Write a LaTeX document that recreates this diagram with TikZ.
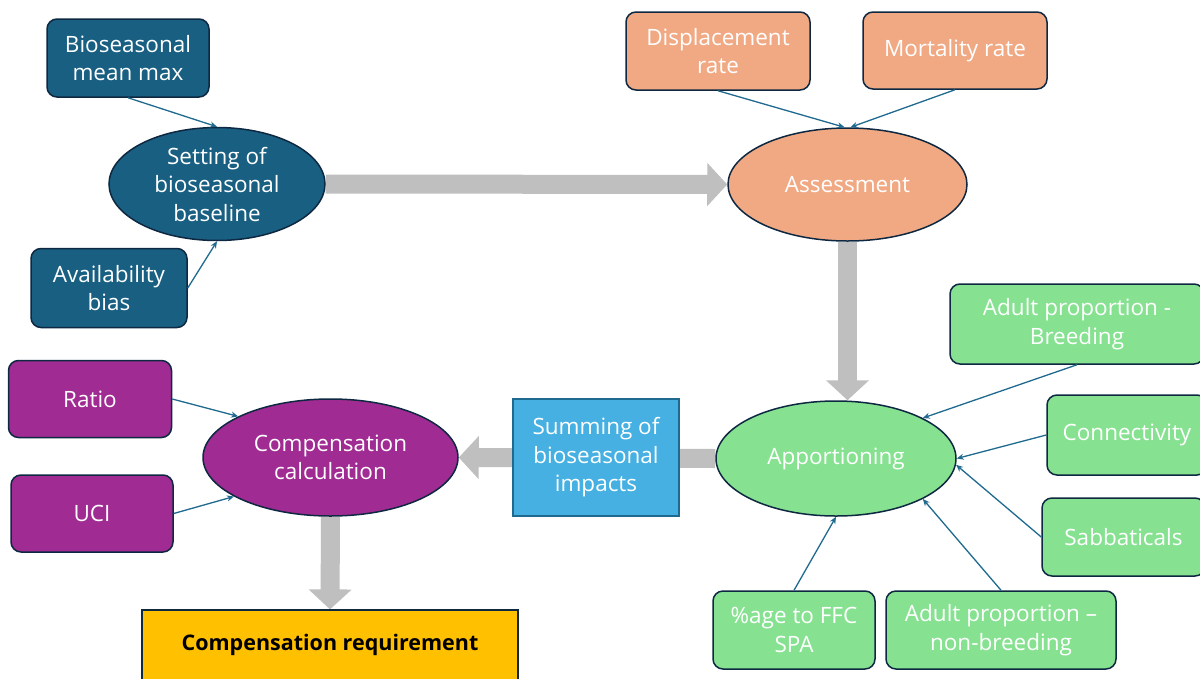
\documentclass[tikz,border=0pt]{standalone}
\usepackage{fontspec}
\setmainfont{Open Sans}
\usetikzlibrary{shapes.geometric,arrows.meta,backgrounds}
\definecolor{teal1}{HTML}{185F82}
\definecolor{orng}{HTML}{F1A983}
\definecolor{grn}{HTML}{86E291}
\definecolor{purp}{HTML}{A02B93}
\definecolor{skyb}{HTML}{45B0E1}
\definecolor{yell}{HTML}{FFC000}
\definecolor{dkline}{HTML}{0E2841}
\definecolor{linkc}{HTML}{1F6A8E}
\definecolor{arrg}{HTML}{BFBFBF}
\begin{document}
\begin{tikzpicture}[x=1pt,y=-1pt,
  base/.style={draw=dkline, line width=1.5pt, text=white, align=center,
    font=\fontsize{22.5}{28.5}\selectfont, inner sep=0pt},
  rbox/.style={base, rectangle, rounded corners=10pt},
  ell/.style={base, ellipse},
  link/.style={draw=linkc, line width=1.3pt, -{Stealth[length=7pt,width=6pt]}},
  big/.style={draw=arrg, line width=19pt, -{Triangle[length=20pt,width=42pt]}}]
\useasboundingbox (0,0) rectangle (1200,678);

% top-left group
\node[rbox, fill=teal1, minimum width=162pt, minimum height=78pt] (bmm) at (128,58) {Bioseasonal\\mean max};
\node[rbox, fill=teal1, minimum width=156pt, minimum height=79pt] (ab) at (109,288) {Availability\\bias};
\node[ell, fill=teal1, minimum width=216pt, minimum height=113pt] (set) at (217,184) {Setting of\\bioseasonal\\baseline};

% top-right group
\node[rbox, fill=orng, minimum width=184pt, minimum height=78pt] (disp) at (718,51) {Displacement\\rate};
\node[rbox, fill=orng, minimum width=184pt, minimum height=77pt] (mort) at (955,50.5) {Mortality rate};
\node[ell, fill=orng, minimum width=239pt, minimum height=113pt] (ass) at (847.5,184.5) {Assessment};

% apportioning group
\node[ell, fill=grn, minimum width=240pt, minimum height=115pt] (app) at (836,458.5) {Apportioning};
\node[rbox, fill=grn, minimum width=254pt, minimum height=80pt] (apb) at (1077,324) {Adult proportion -\\Breeding};
\node[rbox, fill=grn, minimum width=160pt, minimum height=80pt] (con) at (1127,435) {Connectivity};
\node[rbox, fill=grn, minimum width=163pt, minimum height=78pt] (sab) at (1123.5,537) {Sabbaticals};
\node[rbox, fill=grn, minimum width=162pt, minimum height=78pt] (ffc) at (794,630) {\%age to FFC\\SPA};
\node[rbox, fill=grn, minimum width=230pt, minimum height=78pt] (anb) at (1001,630) {Adult proportion –\\non-breeding};

% summing
\node[base, rectangle, draw=linkc, line width=1.2pt, fill=skyb, minimum width=166pt, minimum height=117pt] (sum) at (596,457.5) {Summing of\\bioseasonal\\impacts};

% compensation group
\node[ell, fill=purp, minimum width=255pt, minimum height=117pt] (cc) at (330.5,457.5) {Compensation\\calculation};
\node[rbox, fill=purp, minimum width=163pt, minimum height=77pt] (ratio) at (90,399) {Ratio};
\node[rbox, fill=purp, minimum width=162pt, minimum height=77pt] (uci) at (92,513.5) {UCI};
\node[base, rectangle, fill=yell, text=black, line width=1.2pt, minimum width=376pt, minimum height=70pt, font=\fontsize{21.5}{24}\selectfont\bfseries] (req) at (330,645) {Compensation requirement};

% thin connectors
\draw[link] (bmm.south) -- (set.north);
\draw[link] (ab.east) -- (set.south);
\draw[link] (disp.south) -- ([xshift=-3pt]ass.north);
\draw[link] (mort.south) -- ([xshift=3pt]ass.north);
\draw[link] (apb.south) -- (app.25.5);
\draw[link] (con.west) -- (app.east);
\draw[link] (sab.west) -- (app.-3);
\draw[link] (ffc.north) -- (app.south);
\draw[link] (anb.north) -- (app.-25.7);
\draw[link] (ratio.east) -- (cc.156);
\draw[link] (uci.east) -- (cc.202);

% big grey arrows
\begin{scope}[on background layer]
\fill[white] (0,0) rectangle (1200,678);
\draw[big] (set.east) -- (ass.west);
\draw[big] (ass.south) -- (ass.south |- app.north);
\draw[big] (app.west) -- (cc.east);
\draw[big] (cc.south) -- (req.north);
\end{scope}
\end{tikzpicture}
\end{document}
